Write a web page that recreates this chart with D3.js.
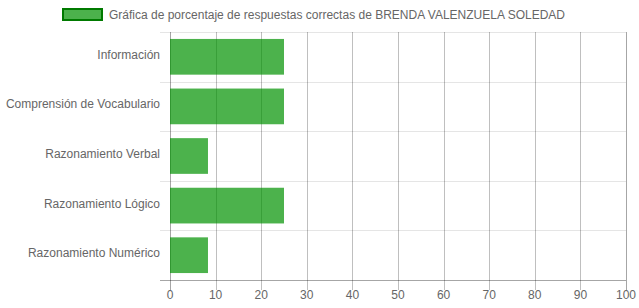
<!DOCTYPE html>
<html>
<head>
<meta charset="utf-8">
<script src="https://cdn.jsdelivr.net/npm/d3@7"></script>
<style>
  body { margin: 0; background: #fff; }
  text { font-family: "Helvetica Neue", Helvetica, Arial, "Liberation Sans", sans-serif; }
</style>
</head>
<body>
<svg id="chart" width="639" height="308"></svg>
<script>
    const categories = ["Información", "Comprensión de Vocabulario", "Razonamiento Verbal", "Razonamiento Lógico", "Razonamiento Numérico"];
    const values = [25, 25, 8.33, 25, 8.33];
    const xTicks = [0, 10, 20, 30, 40, 50, 60, 70, 80, 90, 100];
    const legendLabel = "Gráfica de porcentaje de respuestas correctas de BRENDA VALENZUELA SOLEDAD";

    const svg = d3.select('#chart');
    const margin = { top: 32, right: 13, bottom: 28, left: 170 };
    const width = +svg.attr('width');
    const height = +svg.attr('height');

    const x = d3.scaleLinear().domain([0, 100]).range([margin.left, width - margin.right]);
    const y = d3.scaleBand().domain(categories).range([margin.top, height - margin.bottom]);

    // horizontal grid at category edges
    const edges = categories.map(c => y(c));
    svg.append("g")
        .selectAll("line")
        .data(edges)
        .join("line")
        .attr("x1", margin.left - 10)
        .attr("x2", width - margin.right)
        .attr("y1", d => Math.round(d) + 0.5)
        .attr("y2", d => Math.round(d) + 0.5)
        .attr("stroke", "rgba(0,0,0,0.1)");

    // vertical grid
    svg.append("g")
        .selectAll("line")
        .data(xTicks)
        .join("line")
        .attr("x1", d => Math.round(x(d)) + 0.5)
        .attr("x2", d => Math.round(x(d)) + 0.5)
        .attr("y1", margin.top)
        .attr("y2", height - margin.bottom + 10)
        .attr("stroke", (d, i) => i == 0 || i == xTicks.length - 1 ? "rgba(0,0,0,0.35)" : "rgba(0,0,0,0.25)");

    // bars
    const bh = y.bandwidth() * 0.72;
    svg.append("g")
        .selectAll("rect")
        .data(values)
        .join("rect")
        .attr("x", x(0))
        .attr("y", (d, i) => y(categories[i]) + (y.bandwidth() - bh) / 2)
        .attr("width", d => x(d) - x(0))
        .attr("height", bh)
        .attr("fill", "rgba(0,145,0,0.7)");

    // bottom axis line
    svg.append("line")
        .attr("x1", margin.left - 10)
        .attr("x2", width - margin.right)
        .attr("y1", height - margin.bottom + 0.5)
        .attr("y2", height - margin.bottom + 0.5)
        .attr("stroke", "rgba(0,0,0,0.35)");

    // x tick labels
    svg.append("g")
        .selectAll("text")
        .data(xTicks)
        .join("text")
        .attr("x", d => x(d))
        .attr("y", height - margin.bottom + 19)
        .attr("text-anchor", "middle")
        .attr("fill", "#666")
        .attr("font-size", 12)
        .text(d => d);

    // y labels
    svg.append("g")
        .selectAll("text")
        .data(categories)
        .join("text")
        .attr("x", margin.left - 10)
        .attr("y", d => y(d) + y.bandwidth() / 2 + 2)
        .attr("text-anchor", "end")
        .attr("fill", "#666")
        .attr("font-size", 12)
        .text(d => d);

    // legend
    svg.append("rect")
        .attr("x", 63)
        .attr("y", 9)
        .attr("width", 39)
        .attr("height", 11)
        .attr("fill", "rgba(0,145,0,0.7)")
        .attr("stroke", "#007a00")
        .attr("stroke-width", 2);

    svg.append("text")
        .attr("x", 109)
        .attr("y", 19)
        .attr("fill", "#666")
        .attr("font-size", 12)
        .text(legendLabel);
</script>
</body>
</html>
